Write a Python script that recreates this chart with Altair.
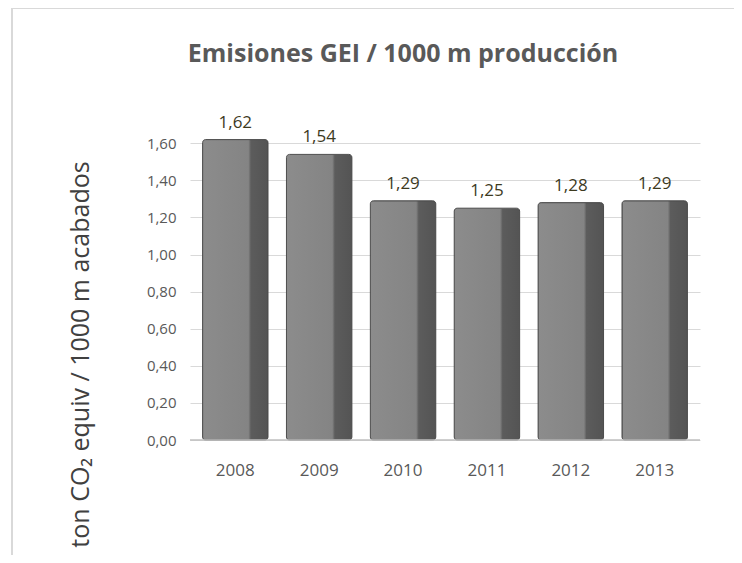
import altair as alt
import pandas as pd

years = ["2008", "2009", "2010", "2011", "2012", "2013"]
values = [1.62, 1.54, 1.29, 1.25, 1.28, 1.29]
y_ticks = [0.0, 0.2, 0.4, 0.6, 0.8, 1.0, 1.2, 1.4, 1.6]

df = pd.DataFrame({"year": years, "value": values})

FONT = "Open Sans"

bar_fill = alt.Gradient(
    gradient="linear",
    x1=0, x2=1, y1=0, y2=0,
    stops=[
        alt.GradientStop(color="#8c8c8c", offset=0),
        alt.GradientStop(color="#848484", offset=0.70),
        alt.GradientStop(color="#5c5c5c", offset=0.74),
        alt.GradientStop(color="#545454", offset=1),
    ],
)

y_axis = alt.Axis(values=y_ticks,
                  labelExpr="replace(format(datum.value, '.2f'), '.', ',')",
                  labelOverlap=False,
                  labelFont=FONT, labelFontSize=15, labelColor="#595959",
                  labelPadding=14, ticks=False, domain=False,
                  grid=True, gridColor="#d9d9d9", gridWidth=1,
                  title="ton CO₂ equiv / 1000 m acabados",
                  titleFont=FONT, titleFontSize=25, titleFontWeight="normal",
                  titleColor="#404040", titleX=-110, titleY=220,
                  titleAngle=-90, titleAlign="center",
                  titleBaseline="middle")

y_scale = alt.Scale(domain=[0, 1.65], nice=False)

base = alt.Chart(df)

bars = base.mark_bar(fill=bar_fill, stroke="#4d4d4d", strokeWidth=1,
                     cornerRadius=3).encode(
    x=alt.X("year:N", sort=years,
            scale=alt.Scale(paddingInner=0.22, paddingOuter=0.15),
            axis=alt.Axis(title=None, labelFont=FONT, labelFontSize=17,
                          labelColor="#595959", labelAngle=0, labelPadding=22,
                          ticks=False, domain=False, grid=False)),
    y=alt.Y("value:Q", scale=y_scale, axis=y_axis),
)

labels = base.mark_text(font=FONT, fontSize=17, color="#3d3a1e",
                        baseline="bottom", dy=-8).encode(
    x=alt.X("year:N", sort=years),
    y=alt.Y("value:Q", scale=y_scale, axis=y_axis),
    text=alt.Text("label:N"),
).transform_calculate(
    label="replace(format(datum.value, '.2f'), '.', ',')"
)

floor = alt.Chart(pd.DataFrame({"v": [0.0]})).mark_rule(
    color="#bfbfbf", strokeWidth=1.5).encode(
    y=alt.Y("v:Q", scale=y_scale, axis=y_axis))

frame_top = alt.Chart(pd.DataFrame({"v": [0]})).mark_rule(
    color="#d9d9d9", strokeWidth=2).encode(
    x=alt.value(-178), x2=alt.value(560), y=alt.value(-126))
frame_left = alt.Chart(pd.DataFrame({"v": [0]})).mark_rule(
    color="#d9d9d9", strokeWidth=2).encode(
    x=alt.value(-178), y=alt.value(-126), y2=alt.value(430))

chart = alt.layer(bars, labels, floor, frame_top, frame_left).properties(
    width=510,
    height=306,
    background="white",
    autosize=alt.AutoSizeParams(type="none"),
    padding={"left": 182, "top": 126, "right": 34, "bottom": 115},
    title=alt.TitleParams(
        "Emisiones GEI / 1000 m producción",
        font=FONT, fontSize=25, fontWeight="bold", color="#595959",
        anchor="middle", offset=-60, dx=-42,
    ),
).configure_view(strokeWidth=0, stroke="transparent")

chart.save("out.html", embed_options={"renderer": "svg", "actions": False})
